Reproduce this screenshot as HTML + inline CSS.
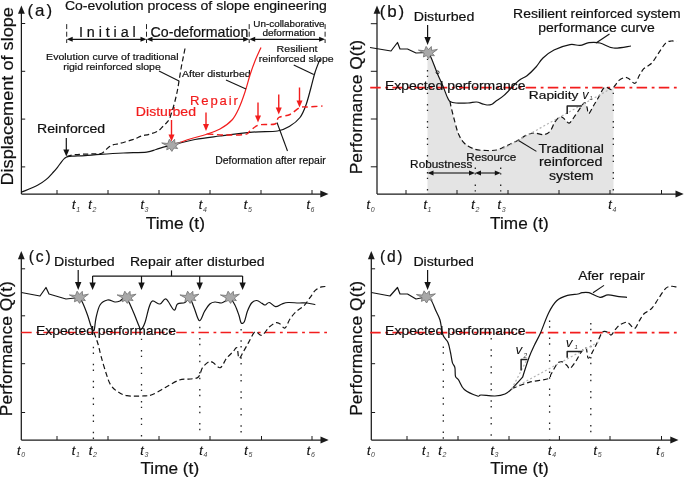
<!DOCTYPE html>
<html><head><meta charset="utf-8"><style>
html,body{margin:0;padding:0;background:#fff;}
svg{display:block;will-change:transform;font-family:"Liberation Sans",sans-serif;}
</style></head><body>
<svg width="685" height="479" viewBox="0 0 685 479">
<rect width="685" height="479" fill="#fff"/>
<line x1="21.4" y1="194" x2="21.4" y2="12.5" stroke="#1a1a1a" stroke-width="1.25" />
<polygon points="21.4,5.5 18,13.7 24.8,13.7" fill="#1a1a1a" stroke="none" stroke-width="0"/>
<line x1="21.4" y1="194" x2="321.5" y2="194" stroke="#1a1a1a" stroke-width="1.25" />
<polygon points="328.5,194 320.3,190.6 320.3,197.4" fill="#1a1a1a" stroke="none" stroke-width="0"/>
<line x1="21.4" y1="23.5" x2="25.2" y2="23.5" stroke="#1a1a1a" stroke-width="1.0" />
<line x1="21.4" y1="71.3" x2="25.2" y2="71.3" stroke="#1a1a1a" stroke-width="1.0" />
<line x1="21.4" y1="119.1" x2="25.2" y2="119.1" stroke="#1a1a1a" stroke-width="1.0" />
<line x1="21.4" y1="166.9" x2="25.2" y2="166.9" stroke="#1a1a1a" stroke-width="1.0" />
<line x1="57" y1="194" x2="57" y2="190" stroke="#1a1a1a" stroke-width="1.0" />
<line x1="108" y1="194" x2="108" y2="190" stroke="#1a1a1a" stroke-width="1.0" />
<line x1="159" y1="194" x2="159" y2="190" stroke="#1a1a1a" stroke-width="1.0" />
<line x1="210" y1="194" x2="210" y2="190" stroke="#1a1a1a" stroke-width="1.0" />
<line x1="261" y1="194" x2="261" y2="190" stroke="#1a1a1a" stroke-width="1.0" />
<line x1="312" y1="194" x2="312" y2="190" stroke="#1a1a1a" stroke-width="1.0" />
<text x="27.5" y="16.4" font-size="16.95" fill="#111" stroke="#111" stroke-width="0.2" textLength="24.64" lengthAdjust="spacing">(a)</text>
<text x="64.9" y="9.8" font-size="13.31" fill="#111" stroke="#111" stroke-width="0.2" textLength="262.04" lengthAdjust="spacingAndGlyphs">Co-evolution process of slope engineering</text>
<line x1="66.7" y1="24.1" x2="66.7" y2="43" stroke="#222" stroke-width="1.0" stroke-dasharray="5,2.6" />
<line x1="146.5" y1="24.1" x2="146.5" y2="43" stroke="#222" stroke-width="1.0" stroke-dasharray="5,2.6" />
<line x1="249.2" y1="24.1" x2="249.2" y2="43" stroke="#222" stroke-width="1.0" stroke-dasharray="5,2.6" />
<line x1="325.1" y1="24.1" x2="325.1" y2="43" stroke="#222" stroke-width="1.0" stroke-dasharray="5,2.6" />
<line x1="106" y1="39.3" x2="71.7" y2="39.3" stroke="#111" stroke-width="1.2" />
<polygon points="66.7,39.3 72.7,36.8 72.7,41.8" fill="#111" stroke="none" stroke-width="0"/>
<line x1="106" y1="39.3" x2="141.5" y2="39.3" stroke="#111" stroke-width="1.2" />
<polygon points="146.5,39.3 140.5,41.8 140.5,36.8" fill="#111" stroke="none" stroke-width="0"/>
<line x1="198" y1="39.3" x2="151.5" y2="39.3" stroke="#111" stroke-width="1.2" />
<polygon points="146.5,39.3 152.5,36.8 152.5,41.8" fill="#111" stroke="none" stroke-width="0"/>
<line x1="198" y1="39.3" x2="244.2" y2="39.3" stroke="#111" stroke-width="1.2" />
<polygon points="249.2,39.3 243.2,41.8 243.2,36.8" fill="#111" stroke="none" stroke-width="0"/>
<line x1="288" y1="39.3" x2="254.2" y2="39.3" stroke="#111" stroke-width="1.2" />
<polygon points="249.2,39.3 255.2,36.8 255.2,41.8" fill="#111" stroke="none" stroke-width="0"/>
<line x1="288" y1="39.3" x2="320.1" y2="39.3" stroke="#111" stroke-width="1.2" />
<polygon points="325.1,39.3 319.1,41.8 319.1,36.8" fill="#111" stroke="none" stroke-width="0"/>
<text x="78.97" y="36.8" font-size="14.35" fill="#111" stroke="#111" stroke-width="0.2" textLength="56.69" lengthAdjust="spacing">Initial</text>
<text x="150.63" y="36.8" font-size="14.14" fill="#111" stroke="#111" stroke-width="0.2" textLength="97.73" lengthAdjust="spacingAndGlyphs">Co-deformation</text>
<text x="253.35" y="27.1" font-size="8.74" fill="#111" stroke="#111" stroke-width="0.2" textLength="71.28" lengthAdjust="spacingAndGlyphs">Un-collaborative</text>
<text x="262.4" y="36.4" font-size="9.15" fill="#111" stroke="#111" stroke-width="0.2" textLength="53.01" lengthAdjust="spacingAndGlyphs">deformation</text>
<text x="46.11" y="60.3" font-size="9.78" fill="#111" stroke="#111" stroke-width="0.2" textLength="132.43" lengthAdjust="spacingAndGlyphs">Evolution curve of traditional</text>
<text x="63.18" y="70.2" font-size="9.78" fill="#111" stroke="#111" stroke-width="0.2" textLength="97.61" lengthAdjust="spacingAndGlyphs">rigid reinforced slope</text>
<text x="181.9" y="77.2" font-size="9.67" fill="#111" stroke="#111" stroke-width="0.2" textLength="68.82" lengthAdjust="spacingAndGlyphs">After disturbed</text>
<text x="276.61" y="51.8" font-size="9.88" fill="#111" stroke="#111" stroke-width="0.2" textLength="40.92" lengthAdjust="spacingAndGlyphs">Resilient</text>
<text x="258.79" y="62" font-size="9.88" fill="#111" stroke="#111" stroke-width="0.2" textLength="74.86" lengthAdjust="spacingAndGlyphs">reinforced slope</text>
<text x="190" y="105" font-size="13.1" fill="#f21d1d" stroke="#f21d1d" stroke-width="0.2" textLength="47.92" lengthAdjust="spacing">Repair</text>
<text x="135.86" y="115.9" font-size="12.69" fill="#f21d1d" stroke="#f21d1d" stroke-width="0.2" textLength="60.16" lengthAdjust="spacingAndGlyphs">Disturbed</text>
<text x="37.03" y="132.8" font-size="12.48" fill="#111" stroke="#111" stroke-width="0.2" textLength="68.11" lengthAdjust="spacingAndGlyphs">Reinforced</text>
<text x="215.25" y="164" font-size="10.19" fill="#111" stroke="#111" stroke-width="0.2" textLength="110.46" lengthAdjust="spacingAndGlyphs">Deformation after repair</text>
<text x="145.74" y="228.9" font-size="16.64" fill="#111" stroke="#111" stroke-width="0.2" textLength="59.2" lengthAdjust="spacingAndGlyphs">Time (t)</text>
<text x="13" y="185.53" font-size="16.95" fill="#111" stroke="#111" stroke-width="0.2" textLength="178.48" lengthAdjust="spacingAndGlyphs" transform="rotate(-90 13 185.53)">Displacement of slope</text>
<text x="72" y="209.4" font-size="12.5" font-style="italic" fill="#111" stroke="#111" stroke-width="0.2">t<tspan font-size="7" dx="0.7" dy="2.6" fill="#444" stroke="none">1</tspan></text>
<text x="88.3" y="209.4" font-size="12.5" font-style="italic" fill="#111" stroke="#111" stroke-width="0.2">t<tspan font-size="7" dx="0.7" dy="2.6" fill="#444" stroke="none">2</tspan></text>
<text x="140.4" y="209.4" font-size="12.5" font-style="italic" fill="#111" stroke="#111" stroke-width="0.2">t<tspan font-size="7" dx="0.7" dy="2.6" fill="#444" stroke="none">3</tspan></text>
<text x="198.7" y="209.4" font-size="12.5" font-style="italic" fill="#111" stroke="#111" stroke-width="0.2">t<tspan font-size="7" dx="0.7" dy="2.6" fill="#444" stroke="none">4</tspan></text>
<text x="243.8" y="209.4" font-size="12.5" font-style="italic" fill="#111" stroke="#111" stroke-width="0.2">t<tspan font-size="7" dx="0.7" dy="2.6" fill="#444" stroke="none">5</tspan></text>
<text x="306.4" y="209.4" font-size="12.5" font-style="italic" fill="#111" stroke="#111" stroke-width="0.2">t<tspan font-size="7" dx="0.7" dy="2.6" fill="#444" stroke="none">6</tspan></text>
<path d="M21.5,192.2 C24.17,191.05 33.37,187.43 37.5,185.3 C41.63,183.17 43.72,181.53 46.3,179.4 C48.88,177.27 51.13,174.52 53,172.5 C54.87,170.48 56.08,169.08 57.5,167.3 C58.92,165.52 60.33,163.28 61.5,161.8 C62.67,160.32 63.62,159.2 64.5,158.4 C65.38,157.6 65.55,157.37 66.8,157 C68.05,156.63 68.97,156.43 72,156.2 C75.03,155.97 80.33,155.9 85,155.6 C89.67,155.3 93.6,154.83 100,154.4 C106.4,153.97 115.62,153.38 123.4,153 C131.18,152.62 141.27,152.68 146.7,152.1 C152.13,151.52 152.88,150.42 156,149.5 C159.12,148.58 162.85,147.28 165.4,146.6 C167.95,145.92 170.32,145.6 171.3,145.4" fill="none" stroke="#141414" stroke-width="1.2" stroke-linejoin="round" />
<path d="M66.8,156.6 C68.17,156.27 71.13,155.03 75,154.6 C78.87,154.17 86.17,154.13 90,154 C93.83,153.87 95.95,153.97 98,153.8 C100.05,153.63 100.97,153.7 102.3,153 C103.63,152.3 104.72,150.72 106,149.6 C107.28,148.48 108.83,147.08 110,146.3 C111.17,145.52 111.55,145.33 113,144.9 C114.45,144.47 116.7,144.18 118.7,143.7 C120.7,143.22 122.67,142.68 125,142 C127.33,141.32 130.7,140.27 132.7,139.6 C134.7,138.93 135.62,138.58 137,138 C138.38,137.42 139,136.72 141,136.1 C143,135.48 146.5,134.98 149,134.3 C151.5,133.62 154.17,132.8 156,132 C157.83,131.2 158.82,130.47 160,129.5 C161.18,128.53 162.02,127.32 163.1,126.2 C164.18,125.08 165.45,124.02 166.5,122.8 C167.55,121.58 168.4,121.03 169.4,118.9 C170.4,116.77 171.48,113.32 172.5,110 C173.52,106.68 174.67,102.33 175.5,99 C176.33,95.67 176.83,93.5 177.5,90 C178.17,86.5 178.83,82 179.5,78 C180.17,74 180.83,69.67 181.5,66 C182.17,62.33 182.92,58.92 183.5,56 C184.08,53.08 184.75,49.75 185,48.5" fill="none" stroke="#141414" stroke-width="1.2" stroke-dasharray="5.2,3" stroke-linejoin="round" />
<path d="M171.3,145.4 C175.25,144.42 186.88,141.07 195,139.5 C203.12,137.93 210.42,137.22 220,136 C229.58,134.78 242.92,133.03 252.5,132.2 C262.08,131.37 271.25,132.03 277.5,131 C283.75,129.97 286.25,128.25 290,126 C293.75,123.75 297.33,121 300,117.5 C302.67,114 304.17,110 306,105 C307.83,100 309.5,92.92 311,87.5 C312.5,82.08 313.5,77.25 315,72.5 C316.5,67.75 319.17,61.25 320,59" fill="none" stroke="#141414" stroke-width="1.2" stroke-linejoin="round" />
<path d="M171.3,145.4 C174.42,144.33 184.22,140.82 190,139 C195.78,137.18 201,136.17 206,134.5 C211,132.83 215.67,131.42 220,129 C224.33,126.58 228.83,123.5 232,120 C235.17,116.5 236.83,112.67 239,108 C241.17,103.33 243.17,97.5 245,92 C246.83,86.5 248.33,80.17 250,75 C251.67,69.83 253.17,65.58 255,61 C256.83,56.42 260,49.75 261,47.5" fill="none" stroke="#f21d1d" stroke-width="1.2" stroke-linejoin="round" />
<path d="M207.5,134 C210.42,134.17 218.75,134.92 225,135 C231.25,135.08 240.83,135.17 245,134.5 C249.17,133.83 247.71,132.58 250,131 C252.29,129.42 254.58,126.17 258.75,125 C262.92,123.83 271.67,125.25 275,124 C278.33,122.75 276.25,119.08 278.75,117.5 C281.25,115.92 286.46,116.17 290,114.5 C293.54,112.83 296.88,108.75 300,107.5 C303.12,106.25 305,107.25 308.75,107 C312.5,106.75 320.21,106.17 322.5,106" fill="none" stroke="#f21d1d" stroke-width="1.4" stroke-dasharray="6,3.5" stroke-linejoin="round" />
<line x1="171.5" y1="120" x2="171.5" y2="135.4" stroke="#f21d1d" stroke-width="1.4" />
<polygon points="171.5,141.4 168.5,134.4 174.5,134.4" fill="#f21d1d" stroke="none" stroke-width="0"/>
<line x1="206" y1="112.5" x2="206" y2="125" stroke="#f21d1d" stroke-width="1.4" />
<polygon points="206,131 203,124 209,124" fill="#f21d1d" stroke="none" stroke-width="0"/>
<line x1="258" y1="102.5" x2="258" y2="116.5" stroke="#f21d1d" stroke-width="1.4" />
<polygon points="258,122.5 255,115.5 261,115.5" fill="#f21d1d" stroke="none" stroke-width="0"/>
<line x1="278.75" y1="94.5" x2="278.75" y2="108.5" stroke="#f21d1d" stroke-width="1.4" />
<polygon points="278.75,114.5 275.75,107.5 281.75,107.5" fill="#f21d1d" stroke="none" stroke-width="0"/>
<line x1="299.5" y1="87.5" x2="299.5" y2="101.5" stroke="#f21d1d" stroke-width="1.4" />
<polygon points="299.5,107.5 296.5,100.5 302.5,100.5" fill="#f21d1d" stroke="none" stroke-width="0"/>
<line x1="66.3" y1="138" x2="66.3" y2="150.4" stroke="#141414" stroke-width="1.2" />
<polygon points="66.3,156.4 63.3,149.4 69.3,149.4" fill="#141414" stroke="none" stroke-width="0"/>
<line x1="159" y1="71" x2="179" y2="81" stroke="#141414" stroke-width="1.1" />
<line x1="226" y1="80" x2="246" y2="89" stroke="#141414" stroke-width="1.1" />
<line x1="293.75" y1="65" x2="313.75" y2="74.5" stroke="#141414" stroke-width="1.1" />
<line x1="277" y1="122.5" x2="287.5" y2="151" stroke="#141414" stroke-width="1.1" />
<polygon points="169.4,139.2 171.7,142.4 174.6,139.3 174.9,143.2 180.7,142.2 175.7,146 177.7,148.6 173.9,148.1 171.9,151.4 169.7,148.4 166.7,149.8 167.4,146 161.7,142.9 167.7,143.5" fill="#a9a9a9" stroke="#707070" stroke-width="0.8"/>
<polygon points="427.5,194 427.5,53 430.8,57 435.6,69 438,75 442.8,85.8 447.6,97.8 450,101.4 451.2,107.4 454.8,121.7 458.4,133.7 464.4,143.3 475,149.3 487,150.5 496.7,150 504,147 510,144.2 518,140.2 526,135.4 534.1,133 543.7,134.6 550,131.4 555,121.8 559.8,117 563,117.7 566.2,121 569.4,123 574.2,117 580.7,107.3 584.7,102.5 587,107.3 588.7,113.7 593.5,105.7 598.3,97.7 603.1,88.8 606.4,87.2 611.2,89.6 613.5,87.6 613.5,194" fill="#e4e4e4"/>
<line x1="377" y1="194" x2="377" y2="12.5" stroke="#1a1a1a" stroke-width="1.25" />
<polygon points="377,5.5 373.6,13.7 380.4,13.7" fill="#1a1a1a" stroke="none" stroke-width="0"/>
<line x1="377" y1="194" x2="676.7" y2="194" stroke="#1a1a1a" stroke-width="1.25" />
<polygon points="683.7,194 675.5,190.6 675.5,197.4" fill="#1a1a1a" stroke="none" stroke-width="0"/>
<line x1="377" y1="23.7" x2="370.8" y2="23.7" stroke="#1a1a1a" stroke-width="1.0" />
<line x1="377" y1="71.3" x2="370.8" y2="71.3" stroke="#1a1a1a" stroke-width="1.0" />
<line x1="377" y1="119" x2="370.8" y2="119" stroke="#1a1a1a" stroke-width="1.0" />
<line x1="377" y1="166.8" x2="370.8" y2="166.8" stroke="#1a1a1a" stroke-width="1.0" />
<line x1="406" y1="194" x2="406" y2="190" stroke="#1a1a1a" stroke-width="1.0" />
<line x1="457" y1="194" x2="457" y2="190" stroke="#1a1a1a" stroke-width="1.0" />
<line x1="508" y1="194" x2="508" y2="190" stroke="#1a1a1a" stroke-width="1.0" />
<line x1="559" y1="194" x2="559" y2="190" stroke="#1a1a1a" stroke-width="1.0" />
<line x1="610" y1="194" x2="610" y2="190" stroke="#1a1a1a" stroke-width="1.0" />
<line x1="661.5" y1="194" x2="661.5" y2="190" stroke="#1a1a1a" stroke-width="1.0" />
<line x1="370.2" y1="87.6" x2="677" y2="87.6" stroke="#f21d1d" stroke-width="1.6" stroke-dasharray="10.5,4.6,2.8,4.3" />
<text x="385.04" y="89.6" font-size="13.21" fill="#111" stroke="#111" stroke-width="0.2" textLength="140.51" lengthAdjust="spacingAndGlyphs">Expected performance</text>
<line x1="427.5" y1="58" x2="427.5" y2="194" stroke="#222" stroke-width="1.3" stroke-dasharray="1.4,4.3,1.4,9.9" stroke-dashoffset="5.00"/>
<line x1="475.3" y1="166" x2="475.3" y2="194" stroke="#222" stroke-width="1.3" stroke-dasharray="1.4,4.3,1.4,9.9" stroke-dashoffset="15.50"/>
<line x1="500.7" y1="166" x2="500.7" y2="194" stroke="#222" stroke-width="1.3" stroke-dasharray="1.4,4.3,1.4,9.9" stroke-dashoffset="15.50"/>
<line x1="613.3" y1="92" x2="613.3" y2="194" stroke="#222" stroke-width="1.3" stroke-dasharray="1.4,4.3,1.4,9.9" stroke-dashoffset="5.00"/>
<text x="379.8" y="16.6" font-size="16.95" fill="#111" stroke="#111" stroke-width="0.2" textLength="24.24" lengthAdjust="spacing">(b)</text>
<text x="413.73" y="20.9" font-size="13.0" fill="#111" stroke="#111" stroke-width="0.2" textLength="60.56" lengthAdjust="spacingAndGlyphs">Disturbed</text>
<line x1="427.6" y1="25" x2="427.6" y2="38" stroke="#141414" stroke-width="1.2" />
<polygon points="427.6,45 424.4,37 430.8,37" fill="#141414" stroke="none" stroke-width="0"/>
<path d="M370,47.5 L391,51 L397.5,42.5 L400,49 L407.5,49 L416,53 L428,52.5" fill="none" stroke="#141414" stroke-width="1.2" stroke-linejoin="round" />
<path d="M428,52.5 C428.47,53.25 429.53,54.25 430.8,57 C432.07,59.75 434.4,66 435.6,69 C436.8,72 436.8,72.2 438,75 C439.2,77.8 441.2,82 442.8,85.8 C444.4,89.6 446.4,95.2 447.6,97.8 C448.8,100.4 448.6,100.53 450,101.4 C451.4,102.27 453,102.73 456,103 C459,103.27 464.6,103.17 468,103 C471.4,102.83 474,101.87 476.4,102 C478.8,102.13 480.63,103.3 482.4,103.8 C484.17,104.3 485.4,104.93 487,105 C488.6,105.07 490.58,104.8 492,104.2 C493.42,103.6 493.5,102.87 495.5,101.4 C497.5,99.93 500.2,98.8 504,95.4 C507.8,92 514.47,84.28 518.3,81 C522.13,77.72 524.05,78.03 527,75.7 C529.95,73.37 533.33,69.95 536,67 C538.67,64.05 540,60.83 543,58 C546,55.17 549.5,52.23 554,50 C558.5,47.77 565.67,45.37 570,44.6 C574.33,43.83 576.83,45.72 580,45.4 C583.17,45.08 585.67,43.1 589,42.7 C592.33,42.3 595.92,42.12 600,43 C604.08,43.88 608.33,47.5 613.5,48 C618.67,48.5 628.08,46.33 631,46" fill="none" stroke="#141414" stroke-width="1.2" stroke-linejoin="round" />
<path d="M450,101.4 C450.2,102.4 450.4,104.02 451.2,107.4 C452,110.78 453.6,117.32 454.8,121.7 C456,126.08 456.8,130.1 458.4,133.7 C460,137.3 461.63,140.7 464.4,143.3 C467.17,145.9 471.23,148.1 475,149.3 C478.77,150.5 483.38,150.38 487,150.5 C490.62,150.62 493.87,150.58 496.7,150 C499.53,149.42 501.78,147.97 504,147 C506.22,146.03 507.67,145.33 510,144.2 C512.33,143.07 515.33,141.67 518,140.2 C520.67,138.73 523.32,136.6 526,135.4 C528.68,134.2 531.15,133.13 534.1,133 C537.05,132.87 541.05,134.87 543.7,134.6 C546.35,134.33 548.12,133.53 550,131.4 C551.88,129.27 553.37,124.2 555,121.8 C556.63,119.4 558.47,117.68 559.8,117 C561.13,116.32 561.93,117.03 563,117.7 C564.07,118.37 565.13,120.12 566.2,121 C567.27,121.88 568.07,123.67 569.4,123 C570.73,122.33 572.32,119.62 574.2,117 C576.08,114.38 578.95,109.72 580.7,107.3 C582.45,104.88 583.65,102.5 584.7,102.5 C585.75,102.5 586.33,105.43 587,107.3 C587.67,109.17 587.62,113.97 588.7,113.7 C589.78,113.43 591.9,108.37 593.5,105.7 C595.1,103.03 596.7,100.52 598.3,97.7 C599.9,94.88 601.75,90.55 603.1,88.8 C604.45,87.05 605.05,87.07 606.4,87.2 C607.75,87.33 609.77,89.88 611.2,89.6 C612.63,89.32 613.7,87.03 615,85.5 C616.3,83.97 617.37,81.75 619,80.4 C620.63,79.05 623.1,77.65 624.8,77.4 C626.5,77.15 627.5,77.92 629.2,78.9 C630.9,79.88 633.3,83.9 635,83.3 C636.7,82.7 637.93,77.73 639.4,75.3 C640.87,72.87 642.33,70.28 643.8,68.7 C645.27,67.12 646.73,66.9 648.2,65.8 C649.67,64.7 650.9,64.17 652.6,62.1 C654.3,60.03 656.22,56.57 658.4,53.4 C660.58,50.23 663.52,45.17 665.7,43.1 C667.88,41.03 669.68,41.23 671.5,41 C673.32,40.77 675.75,41.58 676.6,41.7" fill="none" stroke="#141414" stroke-width="1.2" stroke-dasharray="5.2,3" stroke-linejoin="round" />
<line x1="503" y1="148.8" x2="608" y2="90.3" stroke="#b4b4b4" stroke-width="1.2" stroke-dasharray="2,2.2" />
<path d="M581.9,106 L567.2,106 L567.2,114" fill="none" stroke="#222" stroke-width="1.5" stroke-linejoin="round" />
<text x="528.89" y="99.3" font-size="11.75" fill="#111" stroke="#111" stroke-width="0.2" textLength="49.49" lengthAdjust="spacingAndGlyphs">Rapidity</text>
<text x="582.3" y="99.1" font-size="12.7" font-style="italic" fill="#111">v</text>
<text x="589.6" y="100.3" font-size="5.5" font-style="italic" fill="#333">1</text>
<line x1="451" y1="173" x2="432.5" y2="173" stroke="#141414" stroke-width="1.1" />
<polygon points="427.5,173 433.5,170.6 433.5,175.4" fill="#141414" stroke="none" stroke-width="0"/>
<line x1="451" y1="173" x2="470" y2="173" stroke="#141414" stroke-width="1.1" />
<polygon points="475,173 469,175.4 469,170.6" fill="#141414" stroke="none" stroke-width="0"/>
<line x1="488" y1="173" x2="480" y2="173" stroke="#141414" stroke-width="1.1" />
<polygon points="475,173 481,170.6 481,175.4" fill="#141414" stroke="none" stroke-width="0"/>
<line x1="488" y1="173" x2="495.8" y2="173" stroke="#141414" stroke-width="1.1" />
<polygon points="500.8,173 494.8,175.4 494.8,170.6" fill="#141414" stroke="none" stroke-width="0"/>
<text x="410.13" y="167.9" font-size="10.71" fill="#111" stroke="#111" stroke-width="0.2" textLength="62.18" lengthAdjust="spacingAndGlyphs">Robustness</text>
<text x="466.27" y="161.4" font-size="10.19" fill="#111" stroke="#111" stroke-width="0.2" textLength="50.01" lengthAdjust="spacingAndGlyphs">Resource</text>
<text x="513.11" y="18.2" font-size="13.1" fill="#111" stroke="#111" stroke-width="0.2" textLength="167.52" lengthAdjust="spacingAndGlyphs">Resilient reinforced system</text>
<text x="538.32" y="32.2" font-size="13.1" fill="#111" stroke="#111" stroke-width="0.2" textLength="116.58" lengthAdjust="spacingAndGlyphs">performance curve</text>
<line x1="596" y1="43" x2="609.5" y2="34" stroke="#141414" stroke-width="1.1" />
<text x="538.47" y="152.6" font-size="13.52" fill="#111" stroke="#111" stroke-width="0.2" textLength="65.5" lengthAdjust="spacingAndGlyphs">Traditional</text>
<text x="538.99" y="166.3" font-size="13.52" fill="#111" stroke="#111" stroke-width="0.2" textLength="63.49" lengthAdjust="spacingAndGlyphs">reinforced</text>
<text x="548.94" y="180" font-size="13.52" fill="#111" stroke="#111" stroke-width="0.2" textLength="44.57" lengthAdjust="spacingAndGlyphs">system</text>
<line x1="518.5" y1="140.5" x2="536.4" y2="151.4" stroke="#141414" stroke-width="1.1" />
<text x="490.14" y="228.7" font-size="16.64" fill="#111" stroke="#111" stroke-width="0.2" textLength="58.57" lengthAdjust="spacingAndGlyphs">Time (t)</text>
<text x="361.6" y="174.3" font-size="16.64" fill="#111" stroke="#111" stroke-width="0.2" textLength="134.44" lengthAdjust="spacingAndGlyphs" transform="rotate(-90 361.6 174.3)">Performance Q(t)</text>
<text x="366.6" y="209.4" font-size="12.5" font-style="italic" fill="#111" stroke="#111" stroke-width="0.2">t<tspan font-size="7" dx="0.7" dy="2.6" fill="#444" stroke="none">0</tspan></text>
<text x="423.4" y="209.4" font-size="12.5" font-style="italic" fill="#111" stroke="#111" stroke-width="0.2">t<tspan font-size="7" dx="0.7" dy="2.6" fill="#444" stroke="none">1</tspan></text>
<text x="471.3" y="209.4" font-size="12.5" font-style="italic" fill="#111" stroke="#111" stroke-width="0.2">t<tspan font-size="7" dx="0.7" dy="2.6" fill="#444" stroke="none">2</tspan></text>
<text x="497.6" y="209.4" font-size="12.5" font-style="italic" fill="#111" stroke="#111" stroke-width="0.2">t<tspan font-size="7" dx="0.7" dy="2.6" fill="#444" stroke="none">3</tspan></text>
<text x="608.3" y="209.4" font-size="12.5" font-style="italic" fill="#111" stroke="#111" stroke-width="0.2">t<tspan font-size="7" dx="0.7" dy="2.6" fill="#444" stroke="none">4</tspan></text>
<circle cx="437.6" cy="72.4" r="1.5" fill="none" stroke="#141414" stroke-width="0.9"/>
<polygon points="426.1,46.4 428.4,49.6 431.3,46.5 431.6,50.4 437.4,49.4 432.4,53.2 434.4,55.8 430.6,55.3 428.6,58.6 426.4,55.6 423.4,57 424.1,53.2 418.4,50.1 424.4,50.7" fill="#a9a9a9" stroke="#707070" stroke-width="0.8"/>
<line x1="21.3" y1="440" x2="21.3" y2="258" stroke="#1a1a1a" stroke-width="1.25" />
<polygon points="21.3,251 17.9,259.2 24.7,259.2" fill="#1a1a1a" stroke="none" stroke-width="0"/>
<line x1="21.3" y1="440" x2="321.7" y2="440" stroke="#1a1a1a" stroke-width="1.25" />
<polygon points="328.7,440 320.5,436.6 320.5,443.4" fill="#1a1a1a" stroke="none" stroke-width="0"/>
<line x1="21.3" y1="268.8" x2="25.1" y2="268.8" stroke="#1a1a1a" stroke-width="1.0" />
<line x1="21.3" y1="315.8" x2="25.1" y2="315.8" stroke="#1a1a1a" stroke-width="1.0" />
<line x1="21.3" y1="363.7" x2="25.1" y2="363.7" stroke="#1a1a1a" stroke-width="1.0" />
<line x1="21.3" y1="412.5" x2="25.1" y2="412.5" stroke="#1a1a1a" stroke-width="1.0" />
<line x1="57" y1="440" x2="57" y2="436" stroke="#1a1a1a" stroke-width="1.0" />
<line x1="108" y1="440" x2="108" y2="436" stroke="#1a1a1a" stroke-width="1.0" />
<line x1="159" y1="440" x2="159" y2="436" stroke="#1a1a1a" stroke-width="1.0" />
<line x1="210" y1="440" x2="210" y2="436" stroke="#1a1a1a" stroke-width="1.0" />
<line x1="261.5" y1="440" x2="261.5" y2="436" stroke="#1a1a1a" stroke-width="1.0" />
<line x1="312" y1="440" x2="312" y2="436" stroke="#1a1a1a" stroke-width="1.0" />
<line x1="21.2" y1="332.5" x2="327" y2="332.5" stroke="#f21d1d" stroke-width="1.6" stroke-dasharray="10.5,4.6,2.8,4.25" />
<text x="35.9" y="335.4" font-size="13.21" fill="#111" stroke="#111" stroke-width="0.2" textLength="140.06" lengthAdjust="spacingAndGlyphs">Expected performance</text>
<text x="28.7" y="261.8" font-size="15.6" fill="#111" stroke="#111" stroke-width="0.2" textLength="22.11" lengthAdjust="spacing">(c)</text>
<text x="54.12" y="265.6" font-size="12.48" fill="#111" stroke="#111" stroke-width="0.2" textLength="60.55" lengthAdjust="spacingAndGlyphs">Disturbed</text>
<text x="130.01" y="265.9" font-size="12.27" fill="#111" stroke="#111" stroke-width="0.2" textLength="134.61" lengthAdjust="spacingAndGlyphs">Repair after disturbed</text>
<line x1="78.2" y1="270" x2="78.2" y2="283" stroke="#141414" stroke-width="1.2" />
<polygon points="78.2,290 75,282 81.4,282" fill="#141414" stroke="none" stroke-width="0"/>
<line x1="92.6" y1="276.2" x2="242.6" y2="276.2" stroke="#141414" stroke-width="1.2" />
<line x1="171.5" y1="270.4" x2="171.5" y2="276.2" stroke="#141414" stroke-width="1.2" />
<line x1="92.6" y1="276" x2="92.6" y2="283.4" stroke="#141414" stroke-width="1.2" />
<polygon points="92.6,289.9 89.4,282.4 95.8,282.4" fill="#141414" stroke="none" stroke-width="0"/>
<line x1="141.5" y1="276" x2="141.5" y2="283.4" stroke="#141414" stroke-width="1.2" />
<polygon points="141.5,289.9 138.3,282.4 144.7,282.4" fill="#141414" stroke="none" stroke-width="0"/>
<line x1="199.7" y1="276" x2="199.7" y2="283.4" stroke="#141414" stroke-width="1.2" />
<polygon points="199.7,289.9 196.5,282.4 202.9,282.4" fill="#141414" stroke="none" stroke-width="0"/>
<line x1="242.6" y1="276" x2="242.6" y2="283.4" stroke="#141414" stroke-width="1.2" />
<polygon points="242.6,289.9 239.4,282.4 245.8,282.4" fill="#141414" stroke="none" stroke-width="0"/>
<line x1="93.4" y1="340" x2="93.4" y2="440" stroke="#222" stroke-width="1.3" stroke-dasharray="1.4,4.3,1.4,9.9" stroke-dashoffset="10.20"/>
<line x1="141.5" y1="337" x2="141.5" y2="440" stroke="#222" stroke-width="1.3" stroke-dasharray="1.4,4.3,1.4,9.9" stroke-dashoffset="4.00"/>
<line x1="199.8" y1="326" x2="199.8" y2="440" stroke="#222" stroke-width="1.3" stroke-dasharray="1.4,4.3,1.4,9.9" stroke-dashoffset="4.90"/>
<line x1="241.1" y1="328" x2="241.1" y2="440" stroke="#222" stroke-width="1.3" stroke-dasharray="1.4,4.3,1.4,9.9" stroke-dashoffset="4.70"/>
<path d="M21.3,292.5 L40,296 L46,287.5 L49,294 L66,299 L75,298 L79,297" fill="none" stroke="#141414" stroke-width="1.2" stroke-linejoin="round" />
<path d="M79,297 C79.58,297.92 81.08,299.5 82.5,302.5 C83.92,305.5 86.08,311.08 87.5,315 C88.92,318.92 89.92,323.42 91,326 C92.08,328.58 93.17,331.83 94,330.5 C94.83,329.17 95,322.25 96,318 C97,313.75 98.08,308 100,305 C101.92,302 105,300.5 107.5,300 C110,299.5 112.92,301.83 115,302 C117.08,302.17 118.17,301.75 120,301 C121.83,300.25 123.92,296 126,297.5 C128.08,299 130.33,305.25 132.5,310 C134.67,314.75 137.58,322.75 139,326 C140.42,329.25 140,330.08 141,329.5 C142,328.92 143.67,326.17 145,322.5 C146.33,318.83 147.75,311.08 149,307.5 C150.25,303.92 150.67,301.58 152.5,301 C154.33,300.42 157.75,304.33 160,304 C162.25,303.67 163.67,298 166,299 C168.33,300 172.08,309.17 174,310 C175.92,310.83 175.67,305.25 177.5,304 C179.33,302.75 183,303.58 185,302.5 C187,301.42 187.97,296.58 189.5,297.5 C191.03,298.42 192.55,304.13 194.2,308 C195.85,311.87 197.67,320.15 199.4,320.7 C201.13,321.25 202.87,314.08 204.6,311.3 C206.33,308.52 208.07,305.55 209.8,304 C211.53,302.45 213.08,302.17 215,302 C216.92,301.83 219.55,303.18 221.3,303 C223.05,302.82 224.1,301.78 225.5,300.9 C226.9,300.02 228.13,297.02 229.7,297.7 C231.27,298.38 233.35,302.03 234.9,305 C236.45,307.97 237.97,312.53 239,315.5 C240.03,318.47 240.22,321.75 241.1,322.8 C241.98,323.85 243.25,323.72 244.3,321.8 C245.35,319.88 246.18,314.43 247.4,311.3 C248.62,308.17 250.03,304.8 251.6,303 C253.17,301.2 255.07,300.43 256.8,300.5 C258.53,300.57 260.6,302.65 262,303.4 C263.4,304.15 263.98,305.15 265.2,305 C266.42,304.85 267.57,302.22 269.3,302.5 C271.03,302.78 273.5,306.45 275.6,306.7 C277.7,306.95 279.82,304.7 281.9,304 C283.98,303.3 285.32,302.67 288.1,302.5 C290.88,302.33 295.47,302.92 298.6,303 C301.73,303.08 304.12,302.73 306.9,303 C309.68,303.27 313.9,304.33 315.3,304.6" fill="none" stroke="#141414" stroke-width="1.2" stroke-linejoin="round" />
<path d="M94,332.5 C94.67,334.42 96.83,340.08 98,344 C99.17,347.92 99.67,351.17 101,356 C102.33,360.83 104.42,368.23 106,373 C107.58,377.77 108.58,381.5 110.5,384.6 C112.42,387.7 114.75,389.75 117.5,391.6 C120.25,393.45 122.58,394.98 127,395.7 C131.42,396.42 139.73,396.1 144,395.9 C148.27,395.7 149.03,395.9 152.6,394.5 C156.17,393.1 160.93,389.92 165.4,387.5 C169.87,385.08 175.3,381.42 179.4,380 C183.5,378.58 186.83,379.5 190,379 C193.17,378.5 196.32,378.88 198.4,377 C200.48,375.12 200.77,370.23 202.5,367.7 C204.23,365.17 207.05,362.67 208.8,361.8 C210.55,360.93 211.08,361.52 213,362.5 C214.92,363.48 218.05,368.4 220.3,367.7 C222.55,367 224.42,360.92 226.5,358.3 C228.58,355.68 231.05,353.75 232.8,352 C234.55,350.25 235.97,346.75 237,347.8 C238.03,348.85 237.97,357.6 239,358.3 C240.03,359 241.62,354.62 243.2,352 C244.78,349.38 246.75,345.73 248.5,342.6 C250.25,339.47 252.32,334.93 253.7,333.2 C255.08,331.47 255.42,331.85 256.8,332.2 C258.18,332.55 259.92,336.17 262,335.3 C264.08,334.43 267.03,329.08 269.3,327 C271.57,324.92 273.85,323.33 275.6,322.8 C277.35,322.27 278.23,322.93 279.8,323.8 C281.37,324.67 283.27,328.87 285,328 C286.73,327.13 288.28,321.38 290.2,318.6 C292.12,315.82 294.23,313.4 296.5,311.3 C298.77,309.2 301.55,308.27 303.8,306 C306.05,303.73 308.08,300.3 310,297.7 C311.92,295.1 313.38,292.2 315.3,290.4 C317.22,288.6 319.52,287.55 321.5,286.9 C323.48,286.25 326.25,286.57 327.2,286.5" fill="none" stroke="#141414" stroke-width="1.2" stroke-dasharray="5.2,3" stroke-linejoin="round" />
<polygon points="77.1,291.2 79.4,294.4 82.3,291.3 82.6,295.2 88.4,294.2 83.4,298 85.4,300.6 81.6,300.1 79.6,303.4 77.4,300.4 74.4,301.8 75.1,298 69.4,294.9 75.4,295.5" fill="#a9a9a9" stroke="#707070" stroke-width="0.8"/>
<polygon points="124.8,291.2 127.1,294.4 130,291.3 130.3,295.2 136.1,294.2 131.1,298 133.1,300.6 129.3,300.1 127.3,303.4 125.1,300.4 122.1,301.8 122.8,298 117.1,294.9 123.1,295.5" fill="#a9a9a9" stroke="#707070" stroke-width="0.8"/>
<polygon points="187.6,291.2 189.9,294.4 192.8,291.3 193.1,295.2 198.9,294.2 193.9,298 195.9,300.6 192.1,300.1 190.1,303.4 187.9,300.4 184.9,301.8 185.6,298 179.9,294.9 185.9,295.5" fill="#a9a9a9" stroke="#707070" stroke-width="0.8"/>
<polygon points="228.1,291.2 230.4,294.4 233.3,291.3 233.6,295.2 239.4,294.2 234.4,298 236.4,300.6 232.6,300.1 230.6,303.4 228.4,300.4 225.4,301.8 226.1,298 220.4,294.9 226.4,295.5" fill="#a9a9a9" stroke="#707070" stroke-width="0.8"/>
<text x="140.44" y="473.9" font-size="16.64" fill="#111" stroke="#111" stroke-width="0.2" textLength="58.68" lengthAdjust="spacingAndGlyphs">Time (t)</text>
<text x="11.9" y="416.14" font-size="16.22" fill="#111" stroke="#111" stroke-width="0.2" textLength="135.02" lengthAdjust="spacingAndGlyphs" transform="rotate(-90 11.9 416.14)">Performance Q(t)</text>
<text x="17.1" y="454.5" font-size="12.5" font-style="italic" fill="#111" stroke="#111" stroke-width="0.2">t<tspan font-size="7" dx="0.7" dy="2.6" fill="#444" stroke="none">0</tspan></text>
<text x="71.8" y="454.5" font-size="12.5" font-style="italic" fill="#111" stroke="#111" stroke-width="0.2">t<tspan font-size="7" dx="0.7" dy="2.6" fill="#444" stroke="none">1</tspan></text>
<text x="88.7" y="454.5" font-size="12.5" font-style="italic" fill="#111" stroke="#111" stroke-width="0.2">t<tspan font-size="7" dx="0.7" dy="2.6" fill="#444" stroke="none">2</tspan></text>
<text x="140.3" y="454.5" font-size="12.5" font-style="italic" fill="#111" stroke="#111" stroke-width="0.2">t<tspan font-size="7" dx="0.7" dy="2.6" fill="#444" stroke="none">3</tspan></text>
<text x="199.2" y="454.5" font-size="12.5" font-style="italic" fill="#111" stroke="#111" stroke-width="0.2">t<tspan font-size="7" dx="0.7" dy="2.6" fill="#444" stroke="none">4</tspan></text>
<text x="244.3" y="454.5" font-size="12.5" font-style="italic" fill="#111" stroke="#111" stroke-width="0.2">t<tspan font-size="7" dx="0.7" dy="2.6" fill="#444" stroke="none">5</tspan></text>
<text x="306.7" y="454.5" font-size="12.5" font-style="italic" fill="#111" stroke="#111" stroke-width="0.2">t<tspan font-size="7" dx="0.7" dy="2.6" fill="#444" stroke="none">6</tspan></text>
<line x1="371.3" y1="440" x2="371.3" y2="258" stroke="#1a1a1a" stroke-width="1.25" />
<polygon points="371.3,251 367.9,259.2 374.7,259.2" fill="#1a1a1a" stroke="none" stroke-width="0"/>
<line x1="371.3" y1="440" x2="671.5" y2="440" stroke="#1a1a1a" stroke-width="1.25" />
<polygon points="678.5,440 670.3,436.6 670.3,443.4" fill="#1a1a1a" stroke="none" stroke-width="0"/>
<line x1="371.3" y1="268.8" x2="375.1" y2="268.8" stroke="#1a1a1a" stroke-width="1.0" />
<line x1="371.3" y1="315.8" x2="375.1" y2="315.8" stroke="#1a1a1a" stroke-width="1.0" />
<line x1="371.3" y1="363.7" x2="375.1" y2="363.7" stroke="#1a1a1a" stroke-width="1.0" />
<line x1="371.3" y1="412.5" x2="375.1" y2="412.5" stroke="#1a1a1a" stroke-width="1.0" />
<line x1="407" y1="440" x2="407" y2="436" stroke="#1a1a1a" stroke-width="1.0" />
<line x1="458" y1="440" x2="458" y2="436" stroke="#1a1a1a" stroke-width="1.0" />
<line x1="509" y1="440" x2="509" y2="436" stroke="#1a1a1a" stroke-width="1.0" />
<line x1="559.4" y1="440" x2="559.4" y2="436" stroke="#1a1a1a" stroke-width="1.0" />
<line x1="610" y1="440" x2="610" y2="436" stroke="#1a1a1a" stroke-width="1.0" />
<line x1="661.5" y1="440" x2="661.5" y2="436" stroke="#1a1a1a" stroke-width="1.0" />
<line x1="370.2" y1="332.6" x2="677" y2="332.6" stroke="#f21d1d" stroke-width="1.6" stroke-dasharray="10.5,4.6,2.8,4.3" />
<text x="385.1" y="335.4" font-size="13.21" fill="#111" stroke="#111" stroke-width="0.2" textLength="140.46" lengthAdjust="spacingAndGlyphs">Expected performance</text>
<text x="380" y="261.6" font-size="15.6" fill="#111" stroke="#111" stroke-width="0.2" textLength="22.51" lengthAdjust="spacing">(d)</text>
<text x="413.42" y="265.6" font-size="12.48" fill="#111" stroke="#111" stroke-width="0.2" textLength="60.55" lengthAdjust="spacingAndGlyphs">Disturbed</text>
<text x="578.2" y="280" font-size="13.31" fill="#111" stroke="#111" stroke-width="0.2" textLength="25.34" lengthAdjust="spacingAndGlyphs">Afer</text>
<text x="609.41" y="280" font-size="13.31" fill="#111" stroke="#111" stroke-width="0.2" textLength="35.49" lengthAdjust="spacingAndGlyphs">repair</text>
<line x1="427.6" y1="270" x2="427.6" y2="283" stroke="#141414" stroke-width="1.2" />
<polygon points="427.6,290 424.4,282 430.8,282" fill="#141414" stroke="none" stroke-width="0"/>
<line x1="443.3" y1="340" x2="443.3" y2="440" stroke="#222" stroke-width="1.3" stroke-dasharray="1.4,4.3,1.4,9.9" stroke-dashoffset="10.40"/>
<line x1="491.2" y1="337" x2="491.2" y2="440" stroke="#222" stroke-width="1.3" stroke-dasharray="1.4,4.3,1.4,9.9" stroke-dashoffset="4.70"/>
<line x1="549.6" y1="320" x2="549.6" y2="440" stroke="#222" stroke-width="1.3" stroke-dasharray="1.4,4.3,1.4,9.9" stroke-dashoffset="16.40"/>
<line x1="590.8" y1="322" x2="590.8" y2="440" stroke="#222" stroke-width="1.3" stroke-dasharray="1.4,4.3,1.4,9.9" stroke-dashoffset="15.90"/>
<path d="M371.3,292.5 L390,296 L397.5,287.5 L400,294 L407.5,294 L416,299 L426,297" fill="none" stroke="#141414" stroke-width="1.2" stroke-linejoin="round" />
<path d="M426,297 C426.83,297.5 429.33,297.67 431,300 C432.67,302.33 434.5,307.67 436,311 C437.5,314.33 438.83,316 440,320 C441.17,324 441.67,331.25 443,335 C444.33,338.75 446.75,339.58 448,342.5 C449.25,345.42 449.77,349.15 450.5,352.5 C451.23,355.85 451.67,360.08 452.4,362.6 C453.13,365.12 454.38,365.32 454.9,367.6 C455.42,369.88 454.87,374.22 455.5,376.3 C456.13,378.38 457.23,377.9 458.7,380.1 C460.17,382.3 461.17,386.85 464.3,389.5 C467.43,392.15 474.72,395.08 477.5,396 C480.28,396.92 478.08,395 481,395 C483.92,395 491,396.17 495,396 C499,395.83 502.22,395.18 505,394 C507.78,392.82 508.77,391.7 511.7,388.9 C514.63,386.1 522.6,377.2 522.6,377.2 C522.6,377.2 527.22,362.37 529.2,357 C531.18,351.63 532.62,349 534.5,345 C536.38,341 538.15,338.33 540.5,333 C542.85,327.67 545.9,318.37 548.6,313 C551.3,307.63 553.55,303.73 556.7,300.8 C559.85,297.87 563.95,296.53 567.5,295.4 C571.05,294.27 575.58,294.45 578,294 C580.42,293.55 580.17,292.92 582,292.7 C583.83,292.48 586,291.93 589,292.7 C592,293.47 596.83,296.95 600,297.3 C603.17,297.65 604.83,294.9 608,294.8 C611.17,294.7 615.83,296.28 619,296.7 C622.17,297.12 625.67,297.2 627,297.3" fill="none" stroke="#141414" stroke-width="1.2" stroke-linejoin="round" />
<path d="M511.7,388.9 C514.58,387.8 522.92,384 529,382.3 C535.08,380.6 544.53,380.03 548.2,378.7 C551.87,377.37 549.53,376.75 551,374.3 C552.47,371.85 555.5,366.05 557,364 C558.5,361.95 559.03,362.33 560,362 C560.97,361.67 561.63,361.42 562.8,362 C563.97,362.58 565.8,364.42 567,365.5 C568.2,366.58 568.5,369.25 570,368.5 C571.5,367.75 574.17,363.68 576,361 C577.83,358.32 579.33,354.57 581,352.4 C582.67,350.23 584.78,347.03 586,348 C587.22,348.97 587.07,357.83 588.3,358.2 C589.53,358.57 591.78,353.07 593.4,350.2 C595.02,347.33 596.62,343.87 598,341 C599.38,338.13 600.6,334.62 601.7,333 C602.8,331.38 603.55,331.38 604.6,331.3 C605.65,331.22 606.9,331.88 608,332.5 C609.1,333.12 610.03,335.42 611.2,335 C612.37,334.58 613.67,331.6 615,330 C616.33,328.4 617.52,326.65 619.2,325.4 C620.88,324.15 623.52,322.87 625.1,322.5 C626.68,322.13 627.12,322.22 628.7,323.2 C630.28,324.18 632.82,328.83 634.6,328.4 C636.38,327.97 637.87,323 639.4,320.6 C640.93,318.2 642.33,315.58 643.8,314 C645.27,312.42 646.73,312.2 648.2,311.1 C649.67,310 650.9,309.47 652.6,307.4 C654.3,305.33 656.22,301.87 658.4,298.7 C660.58,295.53 663.52,290.47 665.7,288.4 C667.88,286.33 669.68,286.53 671.5,286.3 C673.32,286.07 675.75,286.88 676.6,287" fill="none" stroke="#141414" stroke-width="1.2" stroke-dasharray="5.2,3" stroke-linejoin="round" />
<line x1="511.7" y1="388.9" x2="600" y2="341.2" stroke="#b4b4b4" stroke-width="1.2" stroke-dasharray="2,2.2" />
<line x1="511.7" y1="388.9" x2="527" y2="359.5" stroke="#b4b4b4" stroke-width="1.2" stroke-dasharray="2,2.2" />
<path d="M527.5,359.5 L521.1,359.5 L521.1,370.6" fill="none" stroke="#222" stroke-width="1.5" stroke-linejoin="round" />
<path d="M581.2,351.4 L567.2,351.4 L567.2,357.8" fill="none" stroke="#222" stroke-width="1.5" stroke-linejoin="round" />
<text x="515.5" y="354.3" font-size="13.5" font-style="italic" fill="#111">v</text>
<text x="523.4" y="357.8" font-size="6.6" font-style="italic" fill="#333">2</text>
<text x="565.7" y="346.7" font-size="13.5" font-style="italic" fill="#111">v</text>
<text x="574.4" y="349" font-size="6" font-style="italic" fill="#333">1</text>
<line x1="593" y1="292.7" x2="604" y2="285.4" stroke="#141414" stroke-width="1.1" />
<text x="490.35" y="473.9" font-size="16.64" fill="#111" stroke="#111" stroke-width="0.2" textLength="58.37" lengthAdjust="spacingAndGlyphs">Time (t)</text>
<text x="361.6" y="415.8" font-size="16.64" fill="#111" stroke="#111" stroke-width="0.2" textLength="134.94" lengthAdjust="spacingAndGlyphs" transform="rotate(-90 361.6 415.8)">Performance Q(t)</text>
<text x="366.9" y="454.5" font-size="12.5" font-style="italic" fill="#111" stroke="#111" stroke-width="0.2">t<tspan font-size="7" dx="0.7" dy="2.6" fill="#444" stroke="none">0</tspan></text>
<text x="421.9" y="454.5" font-size="12.5" font-style="italic" fill="#111" stroke="#111" stroke-width="0.2">t<tspan font-size="7" dx="0.7" dy="2.6" fill="#444" stroke="none">1</tspan></text>
<text x="438.2" y="454.5" font-size="12.5" font-style="italic" fill="#111" stroke="#111" stroke-width="0.2">t<tspan font-size="7" dx="0.7" dy="2.6" fill="#444" stroke="none">2</tspan></text>
<text x="490.4" y="454.5" font-size="12.5" font-style="italic" fill="#111" stroke="#111" stroke-width="0.2">t<tspan font-size="7" dx="0.7" dy="2.6" fill="#444" stroke="none">3</tspan></text>
<text x="548.1" y="454.5" font-size="12.5" font-style="italic" fill="#111" stroke="#111" stroke-width="0.2">t<tspan font-size="7" dx="0.7" dy="2.6" fill="#444" stroke="none">4</tspan></text>
<text x="593.5" y="454.5" font-size="12.5" font-style="italic" fill="#111" stroke="#111" stroke-width="0.2">t<tspan font-size="7" dx="0.7" dy="2.6" fill="#444" stroke="none">5</tspan></text>
<text x="656.2" y="454.5" font-size="12.5" font-style="italic" fill="#111" stroke="#111" stroke-width="0.2">t<tspan font-size="7" dx="0.7" dy="2.6" fill="#444" stroke="none">6</tspan></text>
<polygon points="424.1,290.8 426.4,294 429.3,290.9 429.6,294.8 435.4,293.8 430.4,297.6 432.4,300.2 428.6,299.7 426.6,303 424.4,300 421.4,301.4 422.1,297.6 416.4,294.5 422.4,295.1" fill="#a9a9a9" stroke="#707070" stroke-width="0.8"/>
</svg></body></html>
